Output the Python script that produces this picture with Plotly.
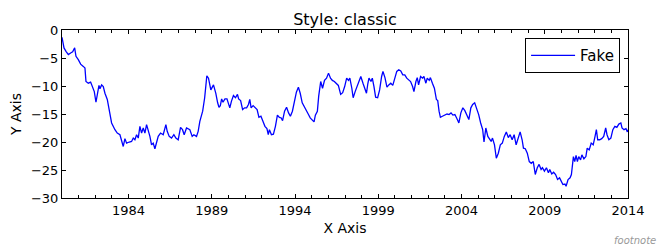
import plotly.graph_objects as go

# decimal years and values
years = [
    1980.00, 1980.12, 1980.24, 1980.38, 1980.52, 1980.64, 1980.76, 1980.84, 1980.98,
    1981.12, 1981.28, 1981.38, 1981.44, 1981.58, 1981.72, 1981.84, 1981.94,
    1982.04, 1982.14, 1982.22, 1982.28, 1982.38, 1982.48, 1982.58, 1982.72, 1982.84, 1982.98,
    1983.18, 1983.32, 1983.48, 1983.58, 1983.68, 1983.78, 1983.88,
    1984.04, 1984.18, 1984.28, 1984.38, 1984.48, 1984.58, 1984.68, 1984.78, 1984.88, 1984.98,
    1985.08, 1985.18, 1985.28, 1985.38, 1985.48, 1985.58, 1985.68, 1985.78, 1985.92,
    1986.08, 1986.24, 1986.32, 1986.44, 1986.58, 1986.72, 1986.84, 1986.98,
    1987.12, 1987.24, 1987.34, 1987.48, 1987.68, 1987.82, 1987.92,
    1988.08, 1988.18, 1988.28, 1988.38, 1988.45, 1988.57, 1988.70, 1988.80, 1988.94,
    1989.10, 1989.24, 1989.35, 1989.43, 1989.51, 1989.59, 1989.67, 1989.79, 1989.91,
    1990.02, 1990.08, 1990.18, 1990.30, 1990.42, 1990.54, 1990.61, 1990.73, 1990.85, 1990.97,
    1991.09, 1991.20, 1991.28, 1991.36, 1991.48, 1991.60, 1991.72, 1991.83, 1991.95,
    1992.07, 1992.19, 1992.31, 1992.39, 1992.46, 1992.58, 1992.70, 1992.82, 1992.94,
    1993.06, 1993.17, 1993.25, 1993.37, 1993.49, 1993.61, 1993.72, 1993.84, 1993.96,
    1994.08, 1994.20, 1994.31, 1994.43, 1994.55, 1994.67, 1994.79, 1994.91,
    1995.02, 1995.14, 1995.22, 1995.34, 1995.42, 1995.54, 1995.65, 1995.77, 1995.89,
    1996.01, 1996.13, 1996.24, 1996.36, 1996.48, 1996.60, 1996.74, 1996.86, 1996.98,
    1997.10, 1997.21, 1997.29, 1997.41, 1997.49, 1997.61, 1997.73, 1997.85, 1997.95,
    1998.09, 1998.21, 1998.29, 1998.37, 1998.44, 1998.56, 1998.64, 1998.74, 1998.84, 1998.96,
    1999.08, 1999.20, 1999.28, 1999.40, 1999.52, 1999.63, 1999.75, 1999.87, 1999.99,
    2000.11, 2000.23, 2000.35, 2000.47, 2000.59, 2000.71, 2000.83, 2000.94,
    2001.06, 2001.14, 2001.26, 2001.34, 2001.42, 2001.54, 2001.66, 2001.74, 2001.86, 2001.94,
    2002.06, 2002.13, 2002.25, 2002.37, 2002.49, 2002.57, 2002.65, 2002.73, 2002.85,
    2003.01, 2003.13, 2003.25, 2003.37, 2003.48, 2003.60, 2003.72, 2003.84, 2003.96,
    2004.08, 2004.20, 2004.32, 2004.44, 2004.56, 2004.67, 2004.79, 2004.91,
    2005.03, 2005.15, 2005.27, 2005.35, 2005.46, 2005.58, 2005.66, 2005.78, 2005.86, 2005.98,
    2006.09, 2006.21, 2006.33, 2006.45, 2006.57, 2006.69, 2006.81, 2006.92,
    2007.04, 2007.16, 2007.28, 2007.40, 2007.52, 2007.64, 2007.72, 2007.83, 2007.95,
    2008.07, 2008.19, 2008.31, 2008.43, 2008.55, 2008.66, 2008.78, 2008.86, 2008.98,
    2009.10, 2009.22, 2009.30, 2009.42, 2009.53, 2009.65, 2009.77, 2009.89,
    2010.01, 2010.09, 2010.21, 2010.28, 2010.40, 2010.52, 2010.60, 2010.72, 2010.80, 2010.88, 2010.96,
    2011.04, 2011.15, 2011.23, 2011.35, 2011.47, 2011.55, 2011.67, 2011.79, 2011.91,
    2012.02, 2012.10, 2012.18, 2012.30, 2012.42, 2012.54, 2012.66, 2012.74, 2012.85, 2012.97,
    2013.09, 2013.21, 2013.33, 2013.45, 2013.57, 2013.64, 2013.76, 2013.88, 2013.96, 2014.00,
]

values = [
    -1.3, -3.2, -3.8, -4.4, -4.1, -3.9, -3.2, -4.7, -5.3,
    -6.1, -6.5, -6.8, -9.2, -9.5, -9.3, -10.1, -11.0,
    -12.9, -11.0, -9.9, -10.5, -9.8, -10.1, -11.3, -12.4, -14.2, -16.6,
    -17.8, -18.4, -18.7, -19.9, -20.8, -19.4, -20.2,
    -20.0, -19.9, -19.3, -19.6, -18.7, -19.3, -17.2, -18.4, -17.5, -18.4,
    -16.9, -17.8, -19.0, -20.5, -20.2, -21.2, -19.9, -19.0, -18.4,
    -18.7, -16.9, -18.1, -19.0, -19.3, -18.7, -19.3, -19.6,
    -17.4, -17.8, -18.7, -17.5, -17.8, -19.0, -18.7,
    -19.0, -18.1, -16.3, -15.0, -14.5, -12.1, -8.2, -8.6, -10.7,
    -9.8, -11.3, -13.0, -13.8, -13.5, -12.3, -12.9, -12.3, -12.3,
    -13.3, -13.9, -12.7, -11.7, -12.1, -11.5, -12.3, -12.6, -14.2, -13.9,
    -13.9, -13.3, -12.4, -13.9, -13.5, -13.8, -14.2, -15.6, -15.4,
    -16.3, -17.2, -17.6, -18.7, -17.8, -18.7, -18.6, -17.2, -15.2,
    -15.6, -15.7, -16.2, -14.5, -13.8, -14.8, -15.4, -14.5, -12.7,
    -11.1, -10.2, -11.3, -13.0, -13.6, -14.2, -15.0, -15.7,
    -16.0, -16.4, -15.2, -14.5, -11.8, -9.2, -10.4, -9.0, -8.6,
    -7.7, -8.6, -9.0, -9.2, -9.6, -9.9, -11.5, -11.2, -10.1,
    -8.6, -9.0, -8.6, -10.4, -12.1, -11.0, -10.1, -9.2, -8.3,
    -9.6, -10.7, -11.3, -9.6, -8.6, -9.2, -8.6, -10.1, -12.0, -12.1,
    -10.7, -8.3, -7.4, -8.5, -10.2, -9.8, -9.5, -9.9, -8.5,
    -7.4, -7.1, -7.3, -8.0, -8.0, -8.6, -8.9, -9.2,
    -10.1, -11.0, -9.2, -8.5, -9.8, -8.3, -8.6, -8.3, -9.5, -8.6,
    -9.0, -8.5, -9.5, -10.4, -12.4, -12.6, -14.5, -15.6, -15.4,
    -15.1, -15.0, -15.1, -14.8, -15.2, -15.1, -15.8, -16.6, -14.8,
    -13.9, -14.4, -15.2, -16.0, -13.9, -13.3, -13.0, -13.9,
    -15.1, -16.6, -17.8, -20.0, -17.5, -19.0, -19.3, -19.9, -19.3, -20.5,
    -22.9, -22.0, -20.5, -20.2, -19.0, -18.2, -19.2, -18.7,
    -19.6, -18.7, -20.5, -19.3, -18.2, -19.6, -21.1, -21.2, -22.0,
    -23.5, -23.8, -23.5, -25.8, -24.6, -24.0, -24.9, -24.6, -25.2,
    -24.6, -25.5, -24.9, -25.7, -25.4, -25.8, -26.7, -26.4,
    -27.0, -27.6, -27.5, -27.9, -26.7, -26.4, -25.8, -22.6, -23.5, -22.4, -23.5,
    -22.6, -23.2, -22.3, -23.0, -22.6, -21.1, -21.4, -20.2, -20.5,
    -19.0, -17.8, -19.6, -19.6, -19.4, -19.0, -17.5, -18.7, -19.6, -19.3,
    -17.8, -17.2, -17.4, -16.8, -16.6, -17.5, -17.8, -17.6, -18.2, -17.8,
]

series_name = "Fake"
title_text = "Style: classic"
x_label = "X Axis"
y_label = "Y Axis"
footnote_text = "footnote"

FONT = "DejaVu Sans"

fig = go.Figure()
fig.add_trace(go.Scatter(
    x=years, y=values, mode="lines", name=series_name,
    line=dict(color="#0000ff", width=1.3),
))

axis_common = dict(
    showline=True, linecolor="black", linewidth=1, mirror="ticks",
    ticks="inside", tickcolor="black", tickwidth=1,
    showgrid=False, zeroline=False,
    tickfont=dict(family=FONT, size=13, color="black"),
)

fig.update_layout(
    width=657, height=248,
    margin=dict(l=62, r=22, t=30, b=50),
    paper_bgcolor="white", plot_bgcolor="white",
    font=dict(family=FONT, color="black"),
    title=dict(text=title_text, x=0.5, xref="paper", y=1 - 19 / 248, yref="container",
               yanchor="middle", xanchor="center",
               font=dict(family=FONT, size=16, color="black")),
    showlegend=True,
    legend=dict(x=0.986, y=0.952, xanchor="right", yanchor="top",
                bgcolor="white", bordercolor="black", borderwidth=1,
                font=dict(family=FONT, size=15, color="black"),
                itemwidth=44, tracegroupgap=0),
    xaxis=dict(
        range=[1980, 2014], tickmode="linear", tick0=1984, dtick=5, ticklen=4,
        minor=dict(ticks="inside", dtick=1, tick0=1980, ticklen=3, tickcolor="black", showgrid=False),
        title=dict(text=x_label, font=dict(family=FONT, size=14, color="black"), standoff=6),
        **axis_common,
    ),
    yaxis=dict(
        range=[-30, 0], tickmode="linear", tick0=0, dtick=5, ticklen=4,
        title=dict(text=y_label, font=dict(family=FONT, size=14, color="black"), standoff=6),
        **axis_common,
    ),
    annotations=[dict(
        text=footnote_text, xref="paper", yref="paper", x=0.972, y=-0.25,
        xanchor="left", yanchor="middle", showarrow=False,
        font=dict(family=FONT, size=10, color="#999999", style="italic"),
    )],
)

fig.write_html(
    "out.html",
    config={"displayModeBar": False},
    post_script="document.body.style.margin='0';document.body.style.overflow='hidden';",
)
